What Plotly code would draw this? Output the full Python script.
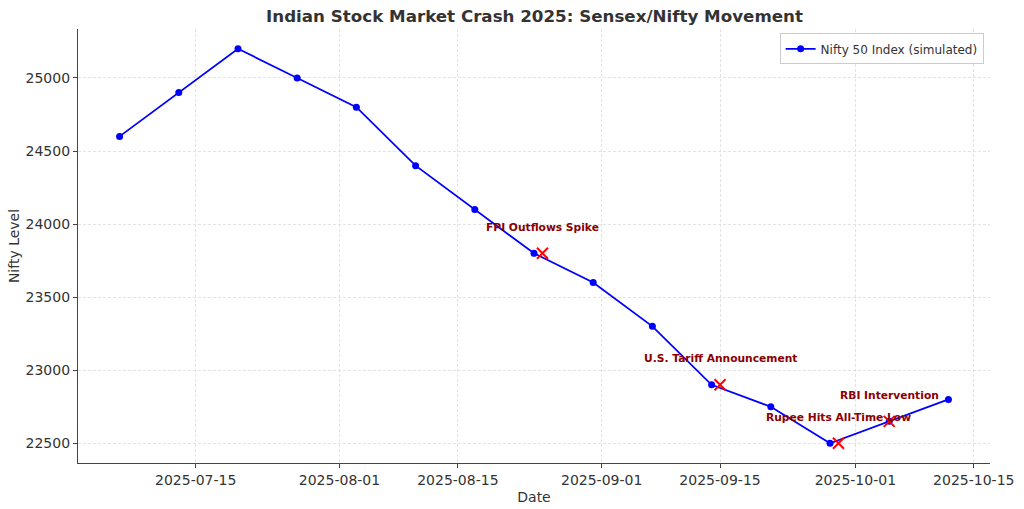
import plotly.graph_objects as go

dates = ["2025-07-06", "2025-07-13", "2025-07-20", "2025-07-27", "2025-08-03",
         "2025-08-10", "2025-08-17", "2025-08-24", "2025-08-31", "2025-09-07",
         "2025-09-14", "2025-09-21", "2025-09-28", "2025-10-05", "2025-10-12"]
nifty = [24600, 24900, 25200, 25000, 24800, 24400, 24100, 23800, 23600, 23300,
         22900, 22750, 22500, 22650, 22800]

event_dates = ["2025-08-25", "2025-09-15", "2025-09-29", "2025-10-05"]
event_values = [23800, 22900, 22500, 22650]
event_labels = ["FPI Outflows Spike", "U.S. Tariff Announcement",
                "Rupee Hits All-Time Low", "RBI Intervention"]

xticks = ["2025-07-15", "2025-08-01", "2025-08-15", "2025-09-01",
          "2025-09-15", "2025-10-01", "2025-10-15"]
yticks = [22500, 23000, 23500, 24000, 24500, 25000]

FONT = "DejaVu Sans"
fig = go.Figure()
fig.add_trace(go.Scatter(
    x=dates, y=nifty, mode="lines+markers", name="Nifty 50 Index (simulated)",
    line=dict(color="#0000ff", width=1.8),
    marker=dict(color="#0000ff", size=7),
))
fig.add_trace(go.Scatter(
    x=event_dates, y=event_values, mode="markers", showlegend=False,
    marker=dict(symbol="x-thin-open", size=11, color="red",
                line=dict(color="red", width=2)),
))
for d, v, t in zip(event_dates, event_values, event_labels):
    fig.add_annotation(x=d, y=v, text="<b>" + t + "</b>", showarrow=False,
                       yshift=26, font=dict(family=FONT, size=10.7, color="#8b0000"))

axis_common = dict(showline=True, linecolor="#444444", linewidth=1.2,
                   ticks="outside", tickcolor="#444444", ticklen=4,
                   showgrid=True, gridcolor="#e2e2e2", griddash="3px,2px", gridwidth=0.8,
                   zeroline=False, tickfont=dict(family=FONT, size=14, color="#333333"),
                   mirror=False, automargin=False)

fig.update_layout(
    width=1024, height=509,
    margin=dict(l=78, r=34, t=29, b=46),
    paper_bgcolor="white", plot_bgcolor="white",
    title=dict(text="<b>Indian Stock Market Crash 2025: Sensex/Nifty Movement</b>",
               x=0.522, xanchor="center", y=0.968, yanchor="middle",
               font=dict(family=FONT, size=16.7, color="#333333"), automargin=False),
    xaxis=dict(**axis_common, type="date", range=["2025-07-01 02:00", "2025-10-16 22:00"],
               tickvals=xticks, ticktext=xticks,
               title=dict(text="Date", font=dict(family=FONT, size=14, color="#333333"), standoff=5)),
    yaxis=dict(**axis_common, range=[22365, 25335], tickvals=yticks,
               ticktext=[str(v) for v in yticks],
               title=dict(text="Nifty Level", font=dict(family=FONT, size=14, color="#333333"), standoff=2)),
    legend=dict(x=0.993, y=0.99, xanchor="right", yanchor="top",
                bgcolor="rgba(255,255,255,0.8)", bordercolor="#cccccc", borderwidth=1,
                font=dict(family=FONT, size=12, color="#333333")),
)
fig.write_html("out.html", config={"displayModeBar": False},
               post_script="document.body.style.margin='0';")
